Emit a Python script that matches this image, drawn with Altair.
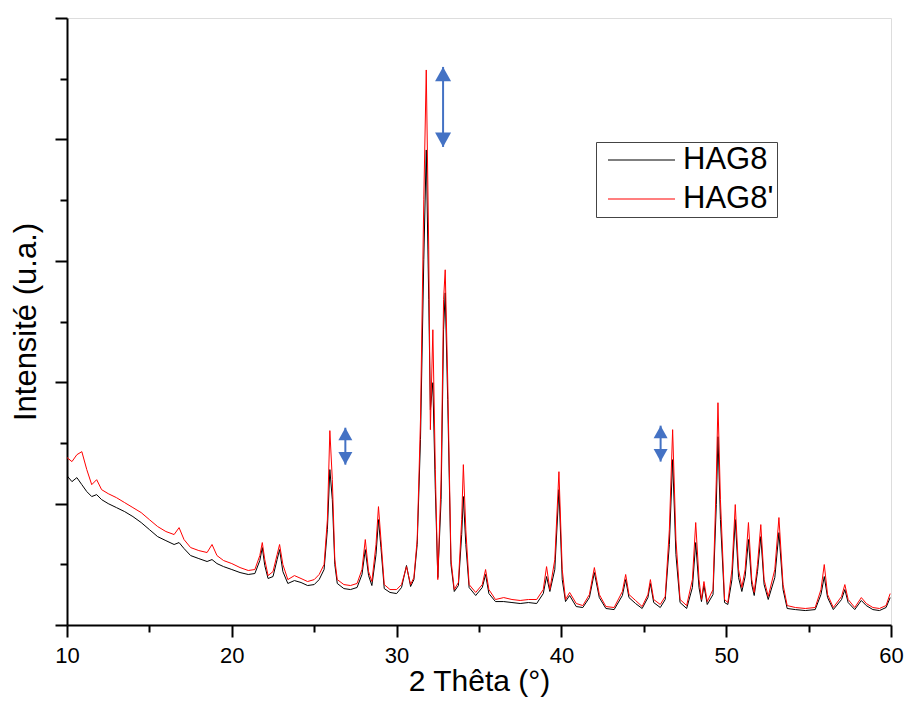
import altair as alt
import pandas as pd

# 2-theta positions (degrees)
two_theta = [
    10.0, 10.3, 10.6, 10.9, 11.2, 11.5, 11.8, 12.1, 12.5, 13.0, 13.5, 14.0, 14.5, 15.0, 15.5,
    16.0, 16.5, 16.8, 17.1, 17.5, 18.0, 18.5, 18.8, 19.1, 19.5, 20.0, 20.5, 21.0, 21.4, 21.7,
    21.85, 22.0, 22.2, 22.5, 22.75, 22.9, 23.1, 23.4, 23.8, 24.2, 24.6, 25.0, 25.3, 25.6, 25.8,
    25.95, 26.1, 26.25, 26.4, 26.8, 27.2, 27.6, 27.9, 28.1, 28.3, 28.5, 28.75, 28.9, 29.05, 29.25,
    29.6, 30.0, 30.3, 30.6, 30.85, 31.05, 31.25, 31.45, 31.65, 31.8, 31.95, 32.05, 32.2, 32.35, 32.5,
    32.7, 32.85, 32.95, 33.1, 33.3, 33.5, 33.75, 33.95, 34.05, 34.2, 34.4, 34.8, 35.2, 35.4, 35.6,
    36.0, 36.5, 37.0, 37.5, 38.0, 38.5, 38.9, 39.1, 39.3, 39.6, 39.85, 40.05, 40.25, 40.5, 40.9,
    41.3, 41.7, 42.0, 42.3, 42.7, 43.2, 43.7, 43.9, 44.1, 44.5, 44.9, 45.25, 45.4, 45.6, 46.0,
    46.3, 46.55, 46.75, 46.95, 47.2, 47.6, 47.95, 48.15, 48.35, 48.5, 48.65, 48.85, 49.2, 49.4, 49.5,
    49.65, 49.9, 50.1, 50.35, 50.55, 50.75, 50.95, 51.15, 51.35, 51.55, 51.7, 51.9, 52.1, 52.3, 52.55,
    52.95, 53.2, 53.45, 53.7, 54.2, 54.8, 55.4, 55.75, 55.95, 56.15, 56.5, 57.0, 57.2, 57.4, 57.8,
    58.2, 58.5, 58.9, 59.3, 59.7, 59.95,
]

# intensity (a.u.) of sample HAG8 (black)
hag8 = [
    1230, 1181, 1214, 1156, 1099, 1058, 1074, 1033, 1000, 967, 934, 893, 844, 786, 728,
    695, 663, 679, 630, 572, 547, 523, 539, 506, 481, 457, 432, 416, 424, 531,
    638, 490, 383, 399, 539, 621, 440, 342, 366, 350, 325, 333, 374, 457, 786,
    1280, 1033, 498, 342, 300, 292, 309, 416, 621, 407, 325, 580, 868, 638, 300,
    268, 259, 309, 490, 317, 374, 663, 1527, 3008, 3913, 2679, 1774, 1996, 1115, 391,
    1033, 2432, 2736, 1856, 498, 276, 325, 745, 1058, 663, 309, 243, 309, 416, 259,
    193, 193, 185, 177, 185, 177, 259, 399, 276, 457, 1115, 374, 193, 243, 152,
    144, 226, 432, 226, 136, 127, 243, 374, 226, 177, 136, 226, 342, 185, 144,
    210, 663, 1362, 580, 185, 136, 309, 679, 309, 193, 325, 169, 251, 992, 1551,
    868, 185, 169, 374, 868, 391, 276, 399, 704, 333, 243, 440, 728, 333, 210,
    391, 761, 292, 136, 127, 119, 127, 251, 399, 226, 127, 210, 292, 185, 127,
    202, 160, 127, 119, 144, 226,
]

# intensity (a.u.) of sample HAG8' (red)
hag8_prime = [
    1379, 1346, 1403, 1428, 1280, 1156, 1197, 1115, 1082, 1049, 1008, 967, 926, 868, 811,
    770, 745, 802, 704, 638, 613, 597, 663, 572, 531, 506, 473, 449, 457, 572,
    679, 539, 407, 440, 580, 663, 498, 374, 407, 383, 358, 374, 416, 498, 868,
    1601, 1197, 539, 374, 333, 325, 342, 457, 704, 440, 358, 663, 975, 704, 333,
    292, 292, 333, 481, 333, 391, 704, 1691, 3502, 4572, 3090, 1609, 2432, 1280, 374,
    1197, 2679, 2926, 2020, 539, 292, 350, 868, 1321, 786, 333, 268, 333, 457, 292,
    210, 226, 210, 202, 210, 210, 292, 481, 292, 539, 1263, 457, 210, 268, 177,
    160, 251, 473, 251, 152, 144, 276, 416, 251, 202, 152, 251, 374, 210, 169,
    235, 786, 1609, 704, 210, 160, 374, 844, 374, 210, 358, 193, 292, 1197, 1831,
    1033, 210, 185, 457, 992, 457, 309, 457, 844, 374, 268, 498, 827, 374, 235,
    457, 885, 333, 160, 144, 136, 144, 292, 498, 251, 144, 235, 333, 210, 144,
    226, 177, 144, 136, 160, 259,
]

series_names = ["HAG8", "HAG8'"]
series_colors = ["#000000", "#ff0000"]

# double-headed blue arrows (annotation): position and tip heights in data units
arrow_x = [26.89, 32.82, 46.02]
arrow_top = [1625, 4597, 1642]
arrow_bottom = [1321, 3938, 1346]
arrow_head_size = [196, 256, 196]

x_ticks = [10, 15, 20, 25, 30, 35, 40, 45, 50, 55, 60]
y_ticks = [0, 500, 1000, 1500, 2000, 2500, 3000, 3500, 4000, 4500, 5000]

FONT = "Liberation Sans"
BLUE = "#4472C4"

df = pd.concat([
    pd.DataFrame({"two_theta": two_theta, "intensity": hag8, "sample": series_names[0]}),
    pd.DataFrame({"two_theta": two_theta, "intensity": hag8_prime, "sample": series_names[1]}),
], ignore_index=True)

arrows = pd.DataFrame({"x": arrow_x, "top": arrow_top, "bottom": arrow_bottom, "head": arrow_head_size})

x_scale = alt.Scale(domain=[10, 60], nice=False, zero=False)
y_scale = alt.Scale(domain=[0, 5000], nice=False, zero=False)

x_axis = alt.Axis(
    values=x_ticks,
    tickSize={"condition": {"test": "datum.value % 10 === 0", "value": 12}, "value": 7},
    labelExpr="datum.value % 10 === 0 ? datum.label : ''",
    labelFontSize=22, labelFont=FONT, labelColor="black", labelFlush=False, labelOverlap=False,
    labelPadding=8,
    title="2 Thêta (°)", titleFontSize=30, titleFont=FONT, titleFontWeight="normal",
    titleColor="black", titlePadding=0,
    domainColor="black", domainWidth=2, tickColor="black", tickWidth=2, grid=False,
)
y_axis = alt.Axis(
    values=y_ticks, labels=False,
    tickSize={"condition": {"test": "datum.value % 1000 === 0", "value": 12}, "value": 7},
    title="Intensité (u.a.)", titleFontSize=31, titleFont=FONT, titleFontWeight="normal",
    titleColor="black", titlePadding=12,
    domainColor="black", domainWidth=2, tickColor="black", tickWidth=2, grid=False,
)

lines = alt.Chart(df).mark_line(strokeWidth=1, clip=True).encode(
    x=alt.X("two_theta:Q", scale=x_scale, axis=x_axis),
    y=alt.Y("intensity:Q", scale=y_scale, axis=y_axis),
    color=alt.Color(
        "sample:N",
        scale=alt.Scale(domain=series_names, range=series_colors),
        legend=alt.Legend(
            title=None, orient="none", legendX=529, legendY=124,
            symbolType="stroke", symbolSize=4489, symbolStrokeWidth=1.2, symbolOffset=8,
            clipHeight=30, labelFontSize=31, labelFont=FONT, labelColor="black", labelOffset=7,
            strokeColor="#444444", fillColor="white", padding=3, rowPadding=8,
        ),
    ),
)

shaft = alt.Chart(arrows).mark_rule(color=BLUE, strokeWidth=2).encode(
    x=alt.X("x:Q", scale=x_scale, axis=x_axis),
    y=alt.Y("top:Q", scale=y_scale, axis=y_axis),
    y2="bottom:Q",
)
head_up = alt.Chart(arrows).mark_point(
    shape="M-1,1.8L1,1.8L0,0Z", filled=True, color=BLUE, opacity=1, strokeWidth=0
).encode(
    x=alt.X("x:Q", scale=x_scale, axis=x_axis),
    y=alt.Y("top:Q", scale=y_scale, axis=y_axis),
    size=alt.Size("head:Q", scale=None, legend=None),
)
head_down = alt.Chart(arrows).mark_point(
    shape="M-1,-1.8L1,-1.8L0,0Z", filled=True, color=BLUE, opacity=1, strokeWidth=0
).encode(
    x=alt.X("x:Q", scale=x_scale, axis=x_axis),
    y=alt.Y("bottom:Q", scale=y_scale, axis=y_axis),
    size=alt.Size("head:Q", scale=None, legend=None),
)

chart = alt.layer(lines, shaft, head_up, head_down).properties(
    width=824, height=607,
    autosize=alt.AutoSizeParams(type="none"),
    padding={"left": 59, "top": 10, "right": 13, "bottom": 80},
).configure_view(strokeWidth=0).configure(font=FONT)

chart.save("out.html", embed_options={"renderer": "svg", "actions": False})
